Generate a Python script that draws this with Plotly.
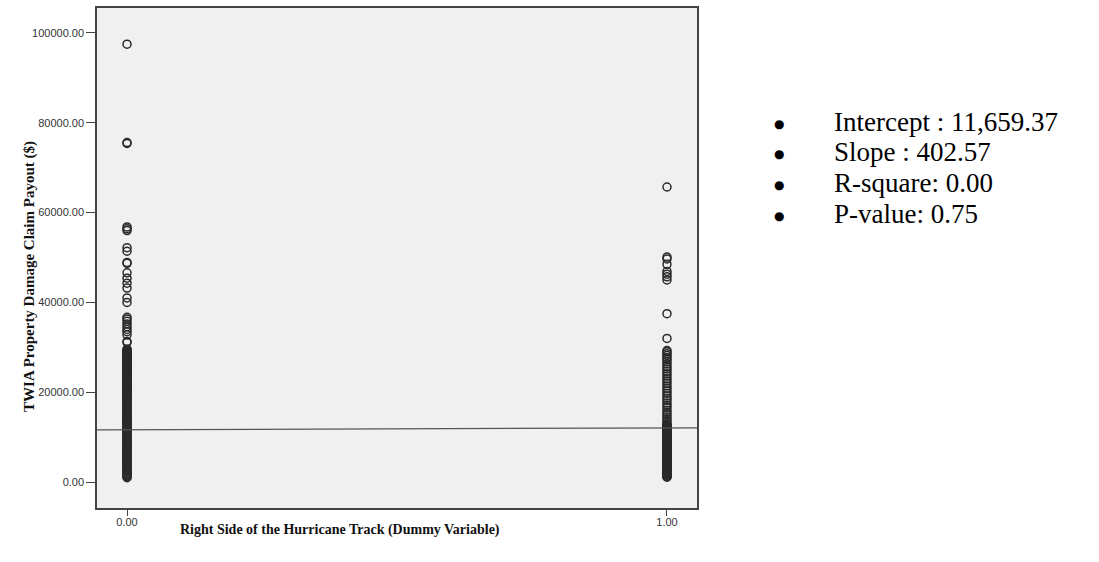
import plotly.graph_objects as go

# Column x = 0 (left side of track) claim payouts ($), read/
payout_left = [
    97500, 75600, 75400, 56800, 56400, 56000, 52200, 51400, 48900, 48700,
    46600, 45400, 44300, 43200, 41000, 40000, 36700, 36300, 35800, 35200,
    34600, 34000, 33500, 32800, 31300, 31100,
    29600, 29450, 29300, 29150, 29000, 28850, 28700, 28550, 28400, 28250,
    28100, 27950, 27800, 27650, 27500, 27350, 27200, 27050, 26900, 26750,
    26600, 26450, 26300, 26150, 26000, 25850, 25700, 25550, 25400, 25250,
    25100, 24950, 24800, 24650, 24500, 24350, 24200, 24050, 23900, 23750,
    23600, 23450, 23300, 23150, 23000, 22850, 22700, 22550, 22400, 22250,
    22100, 21950, 21800, 21650, 21500, 21350, 21200, 21050, 20900, 20750,
    20600, 20450, 20300, 20150, 20000, 19800, 19600, 19400, 19200, 19000,
    18800, 18600, 18400, 18200, 18000, 17800, 17600, 17400, 17200, 17000,
    16800, 16600, 16400, 16200, 16000, 15800, 15600, 15400, 15200, 15000,
    14800, 14600, 14400, 14200, 14000, 13800, 13600, 13400, 13200, 13000,
    12800, 12600, 12400, 12200, 12000, 11800, 11600, 11400, 11200, 11000,
    10800, 10600, 10400, 10200, 10000, 9800, 9600, 9400, 9200, 9000,
    8800, 8600, 8400, 8200, 8000, 7800, 7600, 7400, 7200, 7000,
    6800, 6600, 6400, 6200, 6000, 5800, 5600, 5400, 5200, 5000,
    4800, 4600, 4400, 4200, 4000, 3800, 3600, 3400, 3200, 3000,
    2800, 2600, 2400, 2200, 2000, 1800, 1600, 1400, 1200, 1000,
]

# Column x = 1 (right side of track) claim payouts ($)
payout_right = [
    65700, 50100, 49700, 48500, 46900, 46300, 45700, 45000, 37500, 32000,
    29300, 29000, 28600, 28200, 27700, 27300, 26800, 26300, 25700, 25200,
    24700, 24100, 23600, 23000, 22500, 22000, 21400, 20900, 20300, 19800,
    19200, 18700, 18200, 17600, 17100, 16600, 16000, 15500, 15000, 14500,
    14000, 13500, 13000, 12850, 12700, 12550, 12400, 12250, 12100, 11950,
    11800, 11650, 11500, 11350, 11200, 11050, 10900, 10750, 10600, 10450,
    10300, 10150, 10000, 9850, 9700, 9550, 9400, 9250, 9100, 8950,
    8800, 8650, 8500, 8350, 8200, 8050, 7900, 7750, 7600, 7450,
    7300, 7150, 7000, 6850, 6700, 6550, 6400, 6250, 6100, 5950,
    5800, 5650, 5500, 5350, 5200, 5050, 4900, 4750, 4600, 4450,
    4300, 4150, 4000, 3850, 3700, 3550, 3400, 3250, 3100, 2950,
    2800, 2650, 2500, 2350, 2200, 2050, 1900, 1750, 1600, 1450,
    1300, 1200, 1100,
]

intercept = 11659.37
slope = 402.57
x_range = [-0.0556, 1.0556]
y_range = [-5760, 105550]
y_ticks = [0, 20000, 40000, 60000, 80000, 100000]
y_tick_text = ["0.00", "20000.00", "40000.00", "60000.00", "80000.00", "100000.00"]
x_ticks = [0, 1]
x_tick_text = ["0.00", "1.00"]
x_title = "Right Side of the Hurricane Track (Dummy Variable)"
y_title = "TWIA Property Damage Claim Payout ($)"
stats_lines = ["Intercept : 11,659.37", "Slope : 402.57", "R-square: 0.00", "P-value: 0.75"]

SERIF = "Liberation Serif, Times New Roman, serif"
L, R, T, B = 97, 402, 6, 54
PW, PH = 1099 - L - R, 562 - T - B


def px_to_paper(xp, yp):
    return (xp - L) / PW, 1 - (yp - T) / PH


marker = dict(symbol="circle-open", size=8, color="#2a2a2a", line=dict(width=1.5, color="#2a2a2a"))

fig = go.Figure()
fig.add_trace(go.Scatter(x=[0] * len(payout_left), y=payout_left, mode="markers",
                         marker=marker, showlegend=False, hoverinfo="y"))
fig.add_trace(go.Scatter(x=[1] * len(payout_right), y=payout_right, mode="markers",
                         marker=marker, showlegend=False, hoverinfo="y"))
fig.add_trace(go.Scatter(x=x_range, y=[intercept + slope * v for v in x_range], mode="lines",
                         line=dict(color="#555555", width=1.2), showlegend=False, hoverinfo="skip"))

axis_common = dict(showgrid=False, zeroline=False, showline=True, linecolor="#444444", linewidth=1.5,
                   mirror=True, ticks="outside", tickcolor="#444444", tickwidth=1,
                   tickfont=dict(family="Arial, Liberation Sans", size=11, color="#333333"))

fig.update_xaxes(range=x_range, tickvals=x_ticks, ticktext=x_tick_text, ticklen=6,
                 ticklabelstandoff=-3, **axis_common)
fig.update_yaxes(range=y_range, tickvals=y_ticks, ticktext=y_tick_text, ticklen=9, **axis_common)

# axis titles
ax, ay = px_to_paper(340, 530)
fig.add_annotation(xref="paper", yref="paper", x=ax, y=ay, text="<b>" + x_title + "</b>",
                   showarrow=False, xanchor="center", yanchor="middle",
                   font=dict(family=SERIF, size=14, color="#111111"))
ax, ay = px_to_paper(30, 276)
fig.add_annotation(xref="paper", yref="paper", x=ax, y=ay, text="<b>" + y_title + "</b>",
                   showarrow=False, xanchor="center", yanchor="middle", textangle=-90,
                   font=dict(family=SERIF, size=15, color="#111111"))

# bullet list of regression stats
for i, line in enumerate(stats_lines):
    yy = 120 + 31 * i
    bx, by = px_to_paper(779, yy + 2)
    fig.add_annotation(xref="paper", yref="paper", x=bx, y=by, text="●", showarrow=False,
                       xanchor="center", yanchor="middle",
                       font=dict(family="DejaVu Sans", size=12, color="#000000"))
    tx, ty = px_to_paper(832, yy)
    fig.add_annotation(xref="paper", yref="paper", x=tx, y=ty, text=line, showarrow=False,
                       xanchor="left", yanchor="middle",
                       font=dict(family=SERIF, size=27, color="#000000"))

fig.update_layout(width=1099, height=562, margin=dict(l=L, r=R, t=T, b=B),
                  plot_bgcolor="#f0f0f0", paper_bgcolor="#ffffff")

fig.write_html("out.html")
